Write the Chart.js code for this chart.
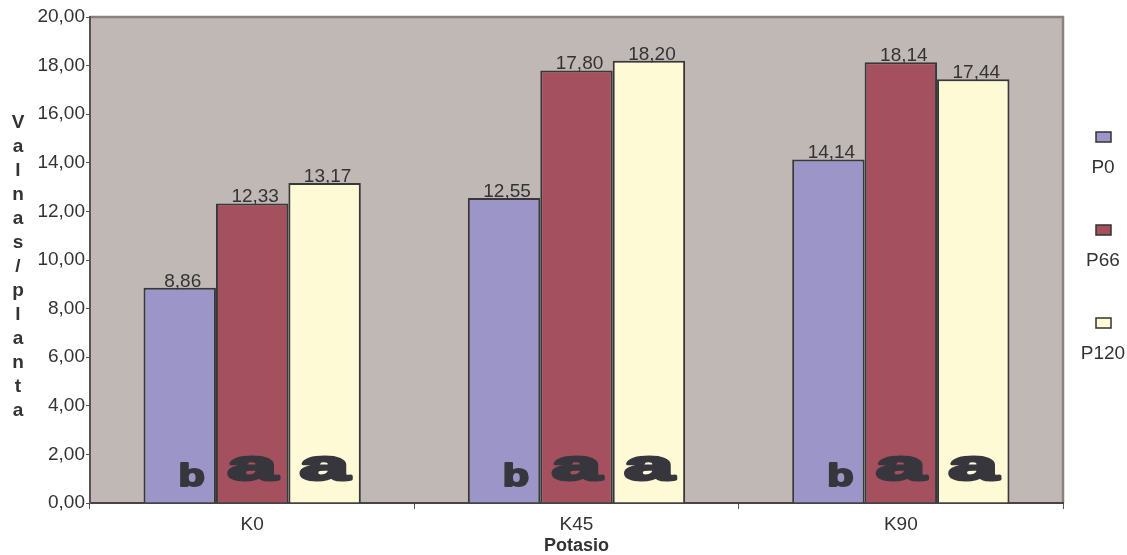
<!DOCTYPE html>
<html>
<head>
<meta charset="utf-8">
<script src="https://cdn.jsdelivr.net/npm/chart.js@4.4.0/dist/chart.umd.min.js"></script>
<style>
  html, body { margin: 0; padding: 0; background: #fff; }
  #wrap { width: 1127px; height: 555px; }
</style>
</head>
<body>
<div id="wrap"><canvas id="grafico"></canvas></div>
<script>
// Datos: valnas por planta segun dosis de potasio y fosforo
const categorias = ['K0', 'K45', 'K90'];
const seriesNombres = ['P0', 'P66', 'P120'];
const valoresP0 = [8.86, 12.55, 14.14];
const valoresP66 = [12.33, 17.80, 18.14];
const valoresP120 = [13.17, 18.20, 17.44];
const letrasP0 = ['b', 'b', 'b'];
const letrasP66 = ['a', 'a', 'a'];
const letrasP120 = ['a', 'a', 'a'];
const tituloY = 'Valnas/planta';
const tituloX = 'Potasio';

const colores = ['#9b95c8', '#a5505f', '#fffad6'];
const fuente = '"Liberation Sans", Arial, sans-serif';
const coma = v => v.toFixed(2).replace('.', ',');

// fondo gris del area de trazado y marco superior/derecho
const fondoArea = {
  id: 'fondoArea',
  beforeDraw(chart) {
    const { ctx, chartArea: a } = chart;
    ctx.save();
    ctx.fillStyle = '#c0b8b5';
    ctx.fillRect(a.left, a.top, a.right - a.left, a.bottom - a.top);
    ctx.strokeStyle = '#8a8181';
    ctx.lineWidth = 2.5;
    ctx.beginPath();
    ctx.moveTo(a.left, a.top);
    ctx.lineTo(a.right, a.top);
    ctx.lineTo(a.right, a.bottom);
    ctx.stroke();
    ctx.restore();
  }
};

// valores encima de las barras y letras de significancia abajo
const etiquetas = {
  id: 'etiquetas',
  afterDatasetsDraw(chart) {
    const { ctx, chartArea: a } = chart;
    ctx.save();
    chart.data.datasets.forEach((ds, i) => {
      chart.getDatasetMeta(i).data.forEach((bar, j) => {
        ctx.fillStyle = '#333';
        ctx.font = '19px ' + fuente;
        ctx.textAlign = 'center';
        ctx.textBaseline = 'alphabetic';
        ctx.fillText(coma(ds.data[j]), bar.x + 3, bar.y - 1);

        const letra = ds.letras[j];
        ctx.fillStyle = '#38363d';
        ctx.strokeStyle = '#38363d';
        ctx.lineJoin = 'round';
        ctx.save();
        if (letra === 'b') {
          ctx.translate(bar.x + 12, a.bottom - 17);
          ctx.scale(1.35, 1);
          ctx.font = 'bold 32px ' + fuente;
          ctx.lineWidth = 2;
        } else {
          ctx.translate(bar.x, a.bottom - 23);
          ctx.scale(2.1, 1);
          ctx.font = 'bold 42px ' + fuente;
          ctx.lineWidth = 3;
        }
        ctx.fillText(letra, 0, 0);
        ctx.strokeText(letra, 0, 0);
        ctx.restore();
      });
    });
    ctx.restore();
  }
};

// titulo vertical del eje Y, letra por letra
const tituloVertical = {
  id: 'tituloVertical',
  afterDraw(chart) {
    const { ctx } = chart;
    ctx.save();
    ctx.fillStyle = '#333';
    ctx.font = 'bold 19px ' + fuente;
    ctx.textAlign = 'center';
    ctx.textBaseline = 'alphabetic';
    [...tituloY].forEach((c, k) => ctx.fillText(c, 18, 128 + k * 24));
    ctx.restore();
  }
};

// leyenda a la derecha: cuadro arriba, texto abajo
const leyenda = {
  id: 'leyenda',
  afterDraw(chart) {
    const { ctx } = chart;
    ctx.save();
    chart.data.datasets.forEach((ds, i) => {
      const top = 132 + i * 93;
      ctx.fillStyle = ds.backgroundColor;
      ctx.fillRect(1096, top, 15, 10);
      ctx.strokeStyle = '#333';
      ctx.lineWidth = 1.5;
      ctx.strokeRect(1096, top, 15, 10);
      ctx.fillStyle = '#333';
      ctx.font = '19px ' + fuente;
      ctx.textAlign = 'center';
      ctx.fillText(ds.label, 1103, top + 41);
    });
    ctx.restore();
  }
};

const series = [valoresP0, valoresP66, valoresP120];
const letras = [letrasP0, letrasP66, letrasP120];

new Chart(document.getElementById('grafico'), {
  type: 'bar',
  data: {
    labels: categorias,
    datasets: series.map((d, i) => ({
      label: seriesNombres[i],
      data: d,
      letras: letras[i],
      backgroundColor: colores[i],
      borderColor: '#38383a',
      borderWidth: 2,
      categoryPercentage: 0.67,
      barPercentage: 1
    }))
  },
  options: {
    responsive: true,
    maintainAspectRatio: false,
    animation: false,
    layout: { padding: { top: 17, right: 64, left: 0, bottom: 0 } },
    plugins: { legend: { display: false }, tooltip: { enabled: false } },
    scales: {
      x: {
        grid: { offset: true, drawOnChartArea: false, tickLength: 6, color: '#555' },
        border: { color: '#444', width: 2 },
        ticks: { color: '#333', font: { size: 19, family: fuente }, padding: 4 },
        title: { display: true, text: tituloX, color: '#333', padding: { top: 0, bottom: -2 },
                 font: { size: 18, weight: 'bold', family: fuente } },
        afterFit: s => { s.height = 52; }
      },
      y: {
        min: 0, max: 20,
        ticks: { stepSize: 2, color: '#333', callback: v => coma(v),
                 font: { size: 19, family: fuente }, padding: 1 },
        grid: { drawOnChartArea: false, tickLength: 4, color: '#555' },
        border: { color: '#555', width: 2 },
        afterFit: s => { s.width = 90; }
      }
    }
  },
  plugins: [fondoArea, etiquetas, tituloVertical, leyenda]
});
</script>
</body>
</html>
